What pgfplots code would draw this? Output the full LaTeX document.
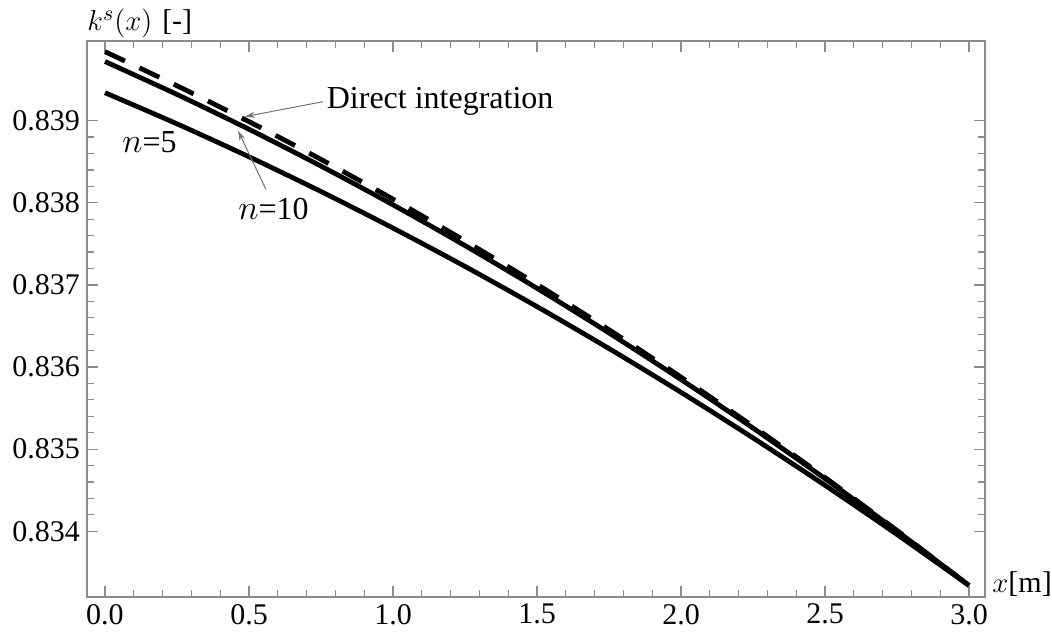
\documentclass[border=0pt]{standalone}
\usepackage{fontspec}
\setmainfont{Liberation Serif}
\usepackage{pgfplots}
\pgfplotsset{compat=1.18}
\usetikzlibrary{arrows.meta}

% values
\pgfplotstableread{
x      direct    nten      nfive
0.00   0.839840  0.839720  0.839340
0.25   0.839425  0.839319  0.838961
0.50   0.838988  0.838895  0.838560
0.75   0.838528  0.838447  0.838137
1.00   0.838044  0.837975  0.837692
1.25   0.837536  0.837479  0.837225
1.50   0.837007  0.836959  0.836736
1.75   0.836454  0.836415  0.836225
2.00   0.835877  0.835848  0.835692
2.25   0.835278  0.835257  0.835137
2.50   0.834655  0.834641  0.834560
2.75   0.834009  0.834003  0.833961
3.00   0.833340  0.833340  0.833340
}\kdata

\newcommand{\lblfont}{\rmfamily\fontsize{15}{18}\selectfont}
\newcommand{\notefont}{\rmfamily\fontsize{16}{19}\selectfont}

\begin{document}
\begin{tikzpicture}
\path (-43.5pt,-19pt) rectangle (482.5pt,298.5pt);
\begin{axis}[
    at={(0,0)}, anchor=south west,
    scale only axis, width=449pt, height=278pt,
    xmin=-0.0625, xmax=3.0556,
    ymin=0.83320, ymax=0.83997,
    xtick={0,0.5,1,1.5,2,2.5,3},
    xticklabels={0.0,0.5,1.0,1.5,2.0,2.5,3.0},
    ytick={0.834,0.835,0.836,0.837,0.838,0.839},
    yticklabels={0.834,0.835,0.836,0.837,0.838,0.839},
    scaled y ticks=false,
    minor x tick num=4, minor y tick num=4,
    tick align=inside,
    major tick length=5.5pt, minor tick length=3.3pt,
    axis line style={draw=black!45, line width=0.7pt},
    every tick/.style={draw=black!45, line width=0.6pt},
    tick label style={font=\lblfont},
    /pgf/number format/assume math mode=true,
    xlabel={$x$[m]},
    ylabel={$k^{s}(x)$\hspace{5pt}[-]},
    every axis x label/.style={at={(rel axis cs:1,0)}, anchor=base west,
        inner sep=0pt, xshift=3.5pt, yshift=2pt, font=\lblfont},
    every axis y label/.style={at={(rel axis cs:0,1)}, anchor=base west,
        inner sep=0pt, xshift=0pt, yshift=5pt, font=\lblfont},
]
\addplot[black, line width=2.4pt, smooth, dash pattern=on 11pt off 8pt] table[x=x, y=direct] {\kdata};
\addplot[black, line width=2.4pt, smooth] table[x=x, y=nten] {\kdata};
\addplot[black, line width=2.4pt, smooth] table[x=x, y=nfive] {\kdata};

\draw[black!55, line width=0.5pt, -{Stealth[length=5pt, width=3pt]}]
    (axis cs:0.757,0.839231) -- (axis cs:0.486,0.839049);
\node[anchor=west, inner sep=1pt, font=\notefont]
    at (axis cs:0.762,0.839231) {Direct integration};

\draw[black!55, line width=0.5pt, -{Stealth[length=5pt, width=3pt]}]
    (axis cs:0.559,0.838162) -- (axis cs:0.462,0.838878);
\node[anchor=west, inner sep=1pt, font=\notefont]
    at (axis cs:0.455,0.837919) {$n$=10};

\node[anchor=west, inner sep=1pt, font=\notefont]
    at (axis cs:0.052,0.838733) {$n$=5};
\end{axis}
\end{tikzpicture}
\end{document}
